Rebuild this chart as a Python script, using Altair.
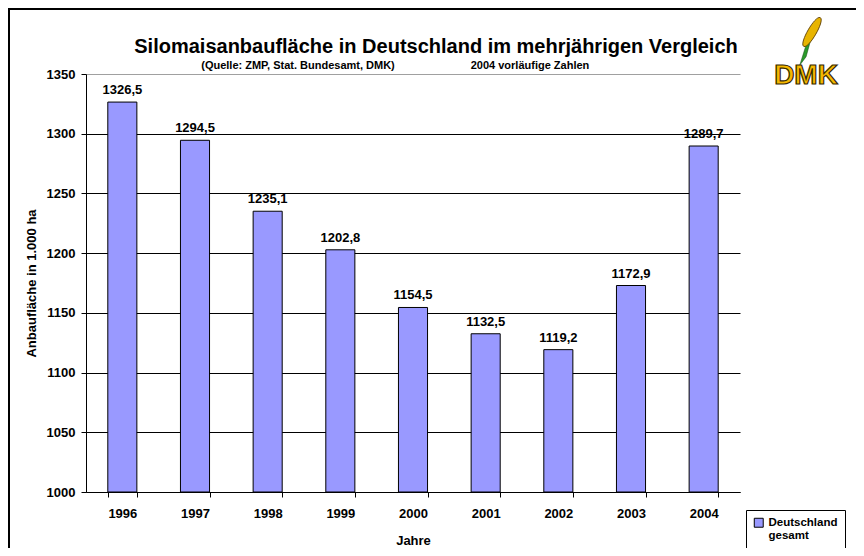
import altair as alt
import pandas as pd

years = ["1996", "1997", "1998", "1999", "2000", "2001", "2002", "2003", "2004"]
values = [1326.5, 1294.5, 1235.1, 1202.8, 1154.5, 1132.5, 1119.2, 1172.9, 1289.7]
series = ["Deutschland gesamt"] * len(years)

df = pd.DataFrame({
    "Jahr": years,
    "Wert": values,
    "Serie": series,
    "Label": [f"{v:.1f}".replace(".", ",") for v in values],
})

FONT = "Liberation Sans"
W, H = 654, 418

x_enc = alt.X("Jahr:N", title="Jahre",
              scale=alt.Scale(paddingInner=0.6, paddingOuter=0.3),
              axis=alt.Axis(labelAngle=0, tickBand="extent", tickSize=5,
                            labelPadding=10, titlePadding=14,
                            domainColor="black", tickColor="black"))
y_enc = alt.Y("Wert:Q", title="Anbaufläche in 1.000 ha",
              scale=alt.Scale(domain=[1000, 1350], nice=False, zero=False),
              axis=alt.Axis(values=list(range(1000, 1351, 50)), tickSize=5, format="d",
                            labelPadding=6, titlePadding=8,
                            domainColor="black", tickColor="black",
                            gridColor={"condition": {"test": "datum.value == 1350", "value": "#a0a0a0"}, "value": "black"},
                            gridOpacity=1))

base = alt.Chart(df)

bars = base.mark_bar(stroke="black", strokeWidth=1, clip=True).encode(
    x=x_enc, y=y_enc, y2=alt.datum(1000),
    color=alt.Color("Serie:N", scale=alt.Scale(range=["#9999FF"]),
                    legend=alt.Legend(title=None, orient="none", legendX=660, legendY=436,
                                      symbolType="square", symbolSize=80,
                                      symbolStrokeColor="black", symbolStrokeWidth=1,
                                      symbolFillColor="#9999FF",
                                      labelExpr="split(datum.label, ' ')",
                                      labelFont=FONT, labelFontSize=11.5, labelFontWeight="bold",
                                      labelLimit=200,
                                      strokeColor="black", padding=7,
                                      fillColor="white")),
)

labels = base.mark_text(font=FONT, fontSize=13, fontWeight="bold", baseline="bottom", dy=-5, color="black").encode(
    x="Jahr:N", y="Wert:Q", text="Label:N"
)

# titles and decorations
title_df = pd.DataFrame({"t": ["Silomaisanbaufläche in Deutschland im mehrjährigen Vergleich"]})
title = alt.Chart(title_df).mark_text(font=FONT, fontSize=20, fontWeight="bold", color="black").encode(
    x=alt.value(350), y=alt.value(-27), text="t:N")
sub1 = alt.Chart(pd.DataFrame({"t": ["(Quelle: ZMP, Stat. Bundesamt, DMK)"]})).mark_text(
    font=FONT, fontSize=11, fontWeight="bold", color="black").encode(
    x=alt.value(212), y=alt.value(-8), text="t:N")
sub2 = alt.Chart(pd.DataFrame({"t": ["2004 vorläufige Zahlen"]})).mark_text(
    font=FONT, fontSize=11, fontWeight="bold", color="black").encode(
    x=alt.value(444), y=alt.value(-8), text="t:N")
logo = alt.Chart(pd.DataFrame({"t": ["DMK"]})).mark_text(
    font=FONT, fontSize=28, fontWeight="bold", color="#F5B800", stroke="#3a2a00", strokeWidth=1.2).encode(
    x=alt.value(720), y=alt.value(2), text="t:N")
stalk = alt.Chart(pd.DataFrame({"a": [0]})).mark_point(
    shape="M-0.2,1 L0.3,-0.6 L0.6,-1 L0.4,-0.5 L0.1,0.6 Z", size=1800, filled=True,
    color="#2a9a2a", stroke="#114411", strokeWidth=0.5, opacity=1).encode(
    x=alt.value(718), y=alt.value(-30))
corn = alt.Chart(pd.DataFrame({"a": [0]})).mark_point(
    shape="M0,-1 C0.35,-1 0.35,1 0,1 C-0.35,1 -0.35,-1 0,-1 Z", size=1100, filled=True, angle=30,
    color="#E8B400", stroke="#5a3a00", strokeWidth=0.8, opacity=1).encode(
    x=alt.value(726), y=alt.value(-42))
border = alt.Chart(pd.DataFrame({"a": [0]})).mark_rect(
    fill=None, stroke="black", strokeWidth=2, clip=False).encode(
    x=alt.value(-77), x2=alt.value(800), y=alt.value(-65), y2=alt.value(600))

chart = alt.layer(border, bars, labels, title, sub1, sub2, stalk, corn, logo).properties(
    width=W, height=H,
    autosize=alt.AutoSizeParams(type="none"),
    padding={"left": 78, "top": 66, "right": 116, "bottom": 56},
).configure_view(stroke=None).configure_axis(
    labelFont=FONT, titleFont=FONT, labelFontSize=13, titleFontSize=13,
    labelFontWeight="bold", titleFontWeight="bold", labelColor="black", titleColor="black",
).configure_axisX(grid=False).configure_axisY(grid=True)

chart.save("out.html", embed_options={"renderer": "svg", "actions": False})
